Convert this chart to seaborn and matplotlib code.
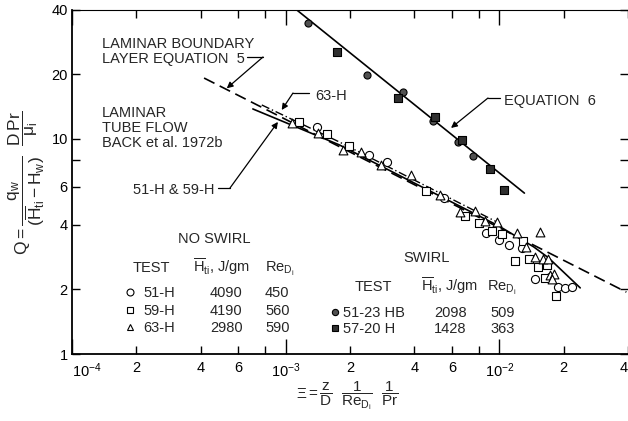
import matplotlib
matplotlib.use('Agg')
import matplotlib.pyplot as plt
import seaborn as sns
from matplotlib.lines import Line2D
from matplotlib.ticker import FixedLocator, FixedFormatter, NullLocator

# ---------------- data ----------------
h51_xi = [1.394e-3, 2.463e-3, 2.988e-3, 5.508e-3, 8.644e-3, 9.936e-3, 1.106e-2,
          1.272e-2, 1.462e-2, 1.718e-2, 1.872e-2, 2.039e-2, 2.198e-2]
h51_q = [11.37, 8.43, 7.82, 5.32, 3.65, 3.39, 3.21, 3.11, 2.23, 2.28, 2.05, 2.03, 2.05]

h59_xi = [1.150e-3, 1.553e-3, 1.987e-3, 4.539e-3, 6.900e-3, 8.017e-3, 9.218e-3,
          1.026e-2, 1.285e-2, 1.180e-2, 1.371e-2, 1.510e-2, 1.663e-2, 1.628e-2, 1.832e-2]
h59_q = [12.00, 10.55, 9.28, 5.73, 4.38, 4.07, 3.73, 3.61, 3.35, 2.71, 2.77, 2.54,
         2.59, 2.26, 1.86]

h63_xi = [1.067e-3, 1.410e-3, 1.863e-3, 2.261e-3, 2.802e-3, 3.866e-3, 5.277e-3,
          6.539e-3, 7.684e-3, 8.551e-3, 9.725e-3, 1.206e-2, 1.327e-2, 1.543e-2,
          1.462e-2, 1.593e-2, 1.681e-2, 1.718e-2, 1.793e-2, 1.755e-2]
h63_q = [11.87, 10.70, 8.89, 8.70, 7.57, 6.80, 5.49, 4.58, 4.63, 4.16, 4.11, 3.65,
         3.15, 3.69, 2.83, 2.77, 2.77, 2.33, 2.36, 2.23]

s51_xi = [1.266e-3, 2.41e-3, 3.55e-3, 4.89e-3, 6.40e-3, 7.52e-3]
s51_q = [34.6, 19.85, 16.5, 12.1, 9.68, 8.33]
s57_xi = [1.747e-3, 3.36e-3, 5.0e-3, 6.68e-3, 9.02e-3, 1.048e-2]
s57_q = [25.4, 15.5, 12.65, 9.9, 7.25, 5.79]

eq6_xi = [1.12e-3, 1.31e-2]
eq6_q = [40.0, 5.6]
eq5_xi = [4.15e-4, 3.93e-2]
eq5_q = [19.2, 1.94]
tube_xi = [7.02e-4, 1.785e-3, 4.539e-3, 9.936e-3, 1.447e-2, 1.699e-2, 2.39e-2]
tube_q = [13.79, 9.38, 5.85, 3.94, 3.15, 2.80, 2.03]
h63line_xi = [7.73e-4, 1.785e-3, 4.539e-3, 9.936e-3]
h63line_q = [14.39, 9.68, 6.04, 4.07]

x_major = [1e-4, 1e-3, 1e-2]
x_major_labels = ['$10^{-4}$', '$10^{-3}$', '$10^{-2}$']
x_minor = [2e-4, 4e-4, 6e-4, 8e-4, 2e-3, 4e-3, 6e-3, 8e-3, 2e-2, 4e-2]
x_minor_labels = ['2', '4', '6', '', '2', '4', '6', '', '2', '4']
y_ticks = [1, 2, 4, 6, 8, 10, 20, 40]
y_tick_labels = ['1', '2', '4', '6', '', '10', '20', '40']

ns_tests = ['51-H', '59-H', '63-H']
ns_H = ['4090', '4190', '2980']
ns_Re = ['450', '560', '590']
sw_tests = ['51-23 HB', '57-20 H']
sw_H = ['2098', '1428']
sw_Re = ['509', '363']

# ---------------- style ----------------
sns.set_style('ticks')
plt.rcParams['font.family'] = ['Liberation Sans', 'DejaVu Sans']
plt.rcParams['mathtext.fontset'] = 'custom'
plt.rcParams['mathtext.rm'] = 'Liberation Sans'
plt.rcParams['mathtext.it'] = 'Liberation Sans'
plt.rcParams['mathtext.sf'] = 'Liberation Sans'
plt.rcParams['mathtext.bf'] = 'Liberation Sans:bold'

FS = 10.5
W, H = 628, 421
fig = plt.figure(figsize=(W / 100, H / 100), dpi=100)
fig.patch.set_facecolor('white')
ax = fig.add_axes([72 / W, 1 - 354 / H, (W - 72) / W, (354 - 9.5) / H])
ax.set_facecolor('white')


def P(px, py):
    return (px / W, 1 - py / H)


# ---------------- lines ----------------
sns.lineplot(x=eq6_xi, y=eq6_q, ax=ax, color='black', lw=1.2, sort=False)
sns.lineplot(x=eq5_xi, y=eq5_q, ax=ax, color='black', lw=1.2, sort=False,
             linestyle=(0, (7, 3.5)))
sns.lineplot(x=tube_xi, y=tube_q, ax=ax, color='black', lw=1.2, sort=False)
sns.lineplot(x=h63line_xi, y=h63line_q, ax=ax, color='black', lw=1.0, sort=False,
             linestyle=(0, (6, 2, 1, 2)))

# ---------------- markers ----------------
def open_pts(x, y, m, s):
    sns.scatterplot(x=x, y=y, ax=ax, marker=m, s=s, zorder=5)
    c = ax.collections[-1]
    c.set_facecolor('white')
    c.set_edgecolor('black')
    c.set_linewidth(0.8)


def filled_pts(x, y, m, s, fc):
    sns.scatterplot(x=x, y=y, ax=ax, marker=m, s=s, zorder=5)
    c = ax.collections[-1]
    c.set_facecolor(fc)
    c.set_edgecolor('black')
    c.set_linewidth(0.8)


open_pts(h51_xi, h51_q, 'o', 34)
open_pts(h59_xi, h59_q, 's', 32)
open_pts(h63_xi, h63_q, '^', 40)
filled_pts(s51_xi, s51_q, 'o', 26, '#505050')
filled_pts(s57_xi, s57_q, 's', 26, '#303030')

# ---------------- axes ----------------
ax.set_xscale('log')
ax.set_yscale('log')
ax.set_xlim(1e-4, 4e-2)
ax.set_ylim(1, 40)
ax.xaxis.set_major_locator(FixedLocator(x_major))
ax.xaxis.set_major_formatter(FixedFormatter(x_major_labels))
ax.xaxis.set_minor_locator(FixedLocator(x_minor))
ax.xaxis.set_minor_formatter(FixedFormatter(x_minor_labels))
ax.yaxis.set_major_locator(FixedLocator(y_ticks))
ax.yaxis.set_major_formatter(FixedFormatter(y_tick_labels))
ax.yaxis.set_minor_locator(NullLocator())
ax.tick_params(axis='both', which='both', direction='in', top=True, right=True,
               labelsize=FS, colors='black', width=1.0)
ax.tick_params(axis='x', which='major', length=11, pad=5)
ax.tick_params(axis='x', which='minor', length=6, pad=5)
ax.tick_params(axis='y', which='major', length=6, pad=3)
for sp in ['left', 'bottom', 'top']:
    ax.spines[sp].set_color('black')
ax.spines['left'].set_linewidth(1.3)
ax.spines['bottom'].set_linewidth(1.3)
ax.spines['top'].set_linewidth(0.8)
ax.spines['right'].set_visible(False)
ax.set_xlabel('')
ax.set_ylabel('')
fig.canvas.draw()
ax.xaxis.get_majorticklabels()[0].set_horizontalalignment('left')
ax.xaxis.get_minorticklabels()[-1].set_horizontalalignment('right')

# ---------------- axis titles ----------------
fig.text(*P(347, 396),
         r'$\Xi = \dfrac{z}{D}\ \ \dfrac{1}{\mathrm{Re}_{D_i}}\ \ \dfrac{1}{\mathrm{Pr}}$',
         fontsize=11, ha='center', va='center')
fig.text(*P(27, 183),
         r'$Q = \dfrac{q_w}{(\overline{H}_{ti} - H_w)}\ \ \dfrac{D\,\mathrm{Pr}}{\mu_i}$',
         fontsize=12.5, ha='center', va='center', rotation=90)

# ---------------- annotations ----------------
def txt(px, py, s, **kw):
    fig.text(*P(px, py), s, fontsize=FS, ha='left', va='baseline', **kw)


def stub(x1, x2, py):
    fig.add_artist(Line2D([x1 / W, x2 / W], [1 - py / H, 1 - py / H],
                          transform=fig.transFigure, color='black', lw=0.9))


def arrow(tip, frm):
    ax.annotate('', xy=tip, xycoords='data', xytext=P(*frm),
                textcoords='figure fraction',
                arrowprops=dict(arrowstyle='-|>', color='black', lw=0.9,
                                mutation_scale=9, shrinkA=0, shrinkB=0))


txt(102, 48, 'LAMINAR BOUNDARY')
txt(102, 63, 'LAYER EQUATION  5')
stub(247, 263, 57)
arrow((5.3e-4, 17.2), (263, 57))

txt(102, 117, 'LAMINAR')
txt(102, 132, 'TUBE FLOW')
txt(102, 147, 'BACK et al. 1972b')

txt(315, 100, '63-H')
stub(293, 309, 93)
arrow((9.58e-4, 13.64), (293, 93))

txt(133, 194, '51-H & 59-H')
stub(218, 230, 188)
arrow((9.2e-4, 12.0), (230, 188))

txt(504, 105, 'EQUATION  6')
stub(488, 500, 98)
arrow((5.94e-3, 11.25), (488, 98))

# ---------------- legend tables ----------------
txt(178, 243, 'NO SWIRL')
txt(133, 272, 'TEST')
txt(193, 272, r'$\overline{\mathrm{H}}_{\mathrm{ti}}$, J/gm')
txt(265, 272, r'$\mathrm{Re}_{\mathrm{D_i}}$')
ns_markers = ['o', 's', '^']
ns_base = [297, 315, 332]
for m, t, h, r, b in zip(ns_markers, ns_tests, ns_H, ns_Re, ns_base):
    fig.add_artist(Line2D([130 / W], [1 - (b - 5) / H], transform=fig.transFigure,
                          marker=m, ms=5, mfc='white', mec='black', mew=0.8, ls=''))
    txt(143, b, t)
    txt(210, b, h)
    txt(265, b, r)

txt(403, 262, 'SWIRL')
txt(355, 291, 'TEST')
txt(421, 291, r'$\overline{\mathrm{H}}_{\mathrm{ti}}$, J/gm')
txt(487, 291, r'$\mathrm{Re}_{\mathrm{D_i}}$')
sw_markers = ['o', 's']
sw_fc = ['#505050', '#303030']
sw_base = [317, 333]
for m, fc, t, h, r, b in zip(sw_markers, sw_fc, sw_tests, sw_H, sw_Re, sw_base):
    fig.add_artist(Line2D([335 / W], [1 - (b - 5) / H], transform=fig.transFigure,
                          marker=m, ms=4.5, mfc=fc, mec='black', mew=0.8, ls=''))
    txt(343, b, t)
    txt(434, b, h)
    txt(490, b, r)

fig.savefig('out.png', dpi=100, facecolor='white')
